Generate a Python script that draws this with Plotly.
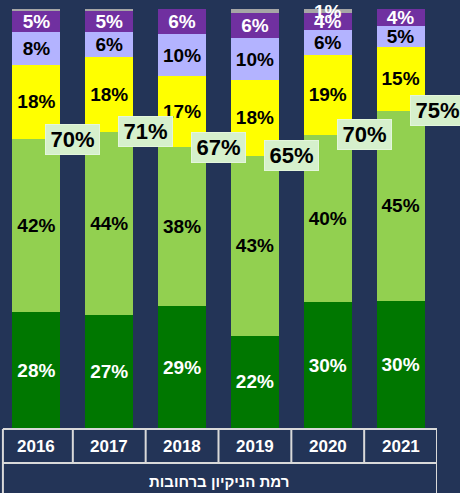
import plotly.graph_objects as go

years = ["2016", "2017", "2018", "2019", "2020", "2021"]
dark_green = [28, 27, 29, 22, 30, 30]
light_green = [42, 44, 38, 43, 40, 45]
yellow = [18, 18, 17, 18, 19, 15]
lavender = [8, 6, 10, 10, 6, 5]
purple = [5, 5, 6, 6, 4, 4]
gray = [0.5, 0.5, 0, 1, 1, 0]
gray_labels = ["", "", "", "", "1%", ""]
green_totals = [70, 71, 67, 65, 70, 75]
axis_title = "רמת הניקיון ברחובות"

BG = "#233457"
W, H = 460, 493
M_L, M_R, M_T, M_B = 0, 23, 9, 65
PLOT_H = H - M_T - M_B
PLOT_BOTTOM = H - M_B
FONT = "Liberation Sans, Arial"


def py(px):
    return (PLOT_BOTTOM - px) / PLOT_H


series = [
    ("dark", dark_green, "#007700", "white"),
    ("light", light_green, "#92d050", "black"),
    ("yellow", yellow, "#ffff00", "black"),
    ("lav", lavender, "#b3b3ff", "black"),
    ("purple", purple, "#7030a0", "white"),
]

fig = go.Figure()
for name, vals, color, tcolor in series:
    fig.add_trace(go.Bar(
        x=list(range(len(years))), y=vals, name=name,
        marker=dict(color=color, line=dict(width=0)),
        text=[f"<b>{v}%</b>" for v in vals], texttemplate="%{text}",
        textposition="inside", insidetextanchor="middle", textangle=0,
        constraintext="none",
        textfont=dict(color=tcolor, size=19, family=FONT),
    ))
fig.add_trace(go.Bar(
    x=list(range(len(years))), y=gray, name="gray",
    marker=dict(color="#a6a6a6", line=dict(width=0)),
    textposition="none",
))

annotations = []
for i, yv in enumerate(years):
    tot = dark_green[i] + light_green[i] + yellow[i] + lavender[i] + purple[i] + gray[i]
    ypos = (dark_green[i] + light_green[i]) / tot * 100
    annotations.append(dict(
        x=i + 0.5, y=ypos, xref="x", yref="y", showarrow=False,
        text=f"<b>{green_totals[i]}%</b>",
        font=dict(size=22, color="black", family=FONT),
        bgcolor="#d6f0cc", bordercolor="#e4f6dc", borderwidth=1,
        borderpad=2, width=49, height=25,
    ))
    if gray_labels[i]:
        gy = (tot - gray[i] / 2) / tot * 100
        annotations.append(dict(
            x=i, y=gy, xref="x", yref="y", showarrow=False, yanchor="middle",
            text=f"<b>{gray_labels[i]}</b>",
            font=dict(size=19, color="white", family=FONT),
        ))
    annotations.append(dict(
        x=i, y=py(446), xref="x", yref="paper", showarrow=False,
        text=f"<b>{yv}</b>", yanchor="middle",
        font=dict(size=17, color="white", family=FONT),
    ))
annotations.append(dict(
    x=(len(years) - 1) / 2, y=py(481), xref="x", yref="paper", showarrow=False,
    text=f"<b>{axis_title}</b>", yanchor="middle",
    font=dict(size=15, color="white", family=FONT),
))

LINE = dict(color="#d9d9d9", width=2)
shapes = []
left_x = -0.46
right_x = len(years) - 0.5
row1_top, row1_bot, row2_bot = py(429), py(463), py(520)
for k in range(len(years) + 1):
    xk = left_x if k == 0 else k - 0.5
    shapes.append(dict(type="line", xref="x", yref="paper", x0=xk, x1=xk,
                       y0=row1_top, y1=row1_bot, line=LINE))
for xk in (left_x, right_x):
    shapes.append(dict(type="line", xref="x", yref="paper", x0=xk, x1=xk,
                       y0=row1_bot, y1=row2_bot, line=LINE))
for yk in (row1_top, row1_bot):
    shapes.append(dict(type="line", xref="x", yref="paper", x0=left_x, x1=right_x,
                       y0=yk, y1=yk, line=LINE))

fig.update_layout(
    width=W, height=H, barmode="stack", barnorm="percent", bargap=0.34,
    paper_bgcolor=BG, plot_bgcolor=BG, showlegend=False,
    margin=dict(l=M_L, r=M_R, t=M_T, b=M_B),
    uniformtext=dict(minsize=19, mode="show"),
    annotations=annotations, shapes=shapes,
    xaxis=dict(range=[-0.5, len(years) - 0.5], showticklabels=False,
               showgrid=False, zeroline=False, showline=False, ticks=""),
    yaxis=dict(range=[0, 100], visible=False, showgrid=False, zeroline=False),
    font=dict(family=FONT),
    hovermode=False,
)

fig.write_html(
    "out.html",
    config={"displayModeBar": False},
    post_script="document.body.style.margin='0';document.body.style.background='" + BG + "';",
)
